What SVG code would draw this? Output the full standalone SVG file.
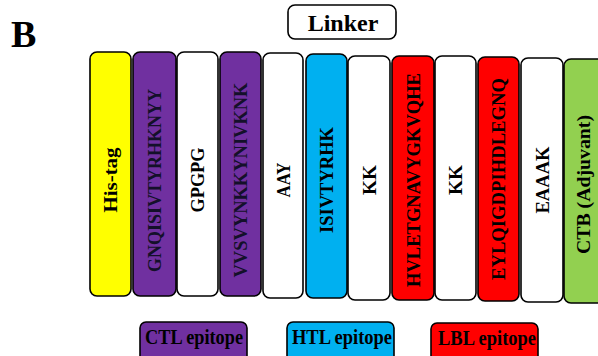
<svg xmlns="http://www.w3.org/2000/svg" width="598" height="356" viewBox="0 0 598 356">
<style>
.b{stroke:#000;stroke-width:1.6}
.t{font-family:"Liberation Serif","Times New Roman",serif;font-weight:bold;font-size:19px;fill:#000;text-anchor:middle}
.lg{font-size:20px}
.yel{fill:#FFFF00}.pur{fill:#7030A0}.wht{fill:#FFFFFF}.blu{fill:#00B0F0}.red{fill:#FF0000}.grn{fill:#92D050}
</style>
<rect width="598" height="356" fill="#fff"/>
<text x="11" y="47" style="font-family:'Liberation Serif','Times New Roman',serif;font-weight:bold;font-size:38px">B</text>
<g id="linker">
<rect class="b wht" x="288" y="5" width="108" height="34" rx="7"/>
<text class="t" x="343" y="31" style="font-size:24px">Linker</text>
</g>
<g id="his-tag"><rect class="b yel" x="90" y="52" width="41" height="244" rx="7"/>
<text class="t" transform="translate(110.5,180) rotate(-90)" y="6.5" textLength="65" lengthAdjust="spacingAndGlyphs">His-tag</text></g>
<g id="ctl1"><rect class="b pur" x="133" y="52" width="43" height="244" rx="7"/>
<text class="t" transform="translate(154.5,180.5) rotate(-90)" y="6.5" textLength="183" lengthAdjust="spacingAndGlyphs" style="fill:#14102a">GNQISIVTYRHKNYY</text></g>
<g id="gpgpg"><rect class="b wht" x="177" y="52" width="41" height="244" rx="7"/>
<text class="t" transform="translate(197.5,180) rotate(-90)" y="6.5" textLength="65" lengthAdjust="spacingAndGlyphs">GPGPG</text></g>
<g id="ctl2"><rect class="b pur" x="220" y="52" width="41" height="244" rx="7"/>
<text class="t" transform="translate(240.5,180) rotate(-90)" y="6.5" textLength="195" lengthAdjust="spacingAndGlyphs" style="fill:#14102a">VVSVYNKKYNIVKNK</text></g>
<g id="aay"><rect class="b wht" x="263" y="53" width="40" height="245" rx="7"/>
<text class="t" transform="translate(283,180) rotate(-90)" y="6.5" textLength="35" lengthAdjust="spacingAndGlyphs">AAY</text></g>
<g id="htl"><rect class="b blu" x="306" y="54" width="41" height="244" rx="7"/>
<text class="t" transform="translate(326.5,180) rotate(-90)" y="6.5" textLength="106" lengthAdjust="spacingAndGlyphs">ISIVTYRHK</text></g>
<g id="kk1"><rect class="b wht" x="348" y="56" width="42" height="244" rx="7"/>
<text class="t" transform="translate(369,180) rotate(-90)" y="6.5" textLength="30" lengthAdjust="spacingAndGlyphs">KK</text></g>
<g id="lbl1"><rect class="b red" x="392" y="56" width="42" height="244" rx="7"/>
<text class="t" transform="translate(413,180) rotate(-90)" y="6.5" textLength="214" lengthAdjust="spacingAndGlyphs">HVLETGNAVYGKVQHE</text></g>
<g id="kk2"><rect class="b wht" x="435" y="56" width="41" height="244" rx="7"/>
<text class="t" transform="translate(455.5,180) rotate(-90)" y="6.5" textLength="30" lengthAdjust="spacingAndGlyphs">KK</text></g>
<g id="lbl2"><rect class="b red" x="478" y="57" width="41" height="244" rx="7"/>
<text class="t" transform="translate(498.5,179) rotate(-90)" y="6.5" textLength="202" lengthAdjust="spacingAndGlyphs">EYLQIGDPIHDLEGNQ</text></g>
<g id="eaaak"><rect class="b wht" x="521" y="58" width="42" height="244" rx="7"/>
<text class="t" transform="translate(542,180) rotate(-90)" y="6.5" textLength="67" lengthAdjust="spacingAndGlyphs">EAAAK</text></g>
<g id="ctb"><rect class="b grn" x="564" y="59" width="60" height="244" rx="7"/>
<text class="t" transform="translate(583,184.5) rotate(-90)" y="6.5" textLength="139" lengthAdjust="spacingAndGlyphs">CTB (Adjuvant)</text></g>
<g id="legend-ctl"><rect class="b pur" x="140" y="322" width="107" height="40" rx="6"/>
<text class="t lg" x="194" y="344" textLength="98" lengthAdjust="spacingAndGlyphs">CTL epitope</text></g>
<g id="legend-htl"><rect class="b blu" x="287" y="322" width="107" height="40" rx="6"/>
<text class="t lg" x="342" y="344" textLength="100" lengthAdjust="spacingAndGlyphs">HTL epitope</text></g>
<g id="legend-lbl"><rect class="b red" x="431" y="323" width="107" height="40" rx="6"/>
<text class="t lg" x="487" y="345" textLength="98" lengthAdjust="spacingAndGlyphs">LBL epitope</text></g>
<g id="connectors"></g>
</svg>
